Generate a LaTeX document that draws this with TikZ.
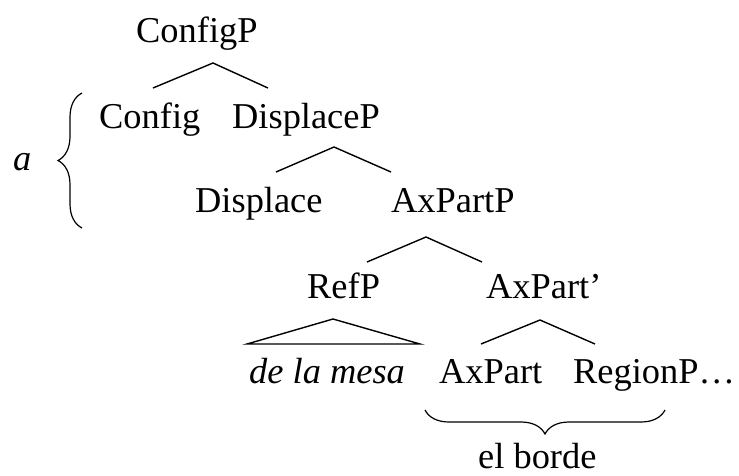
\documentclass[tikz,border=0pt]{standalone}
\usepackage{fontspec}
\setmainfont{Liberation Serif}
\usetikzlibrary{decorations.pathreplacing}
\begin{document}
\begin{tikzpicture}[x=1pt,y=1pt,
  lbl/.style={anchor=base west,inner sep=0pt,font=\fontsize{36.4}{43}\selectfont},
  branch/.style={line width=1.4pt,line join=miter},
  curly/.style={line width=1.2pt,decorate,decoration={brace,amplitude=24pt,aspect=0.5}}]
\useasboundingbox (0,0) rectangle (739,-475);

% labels of the tree
\node[lbl] (configP)   at (136,-42)  {ConfigP};
\node[lbl] (config)    at (99,-128)  {Config};
\node[lbl] (displaceP) at (232,-128) {DisplaceP};
\node[lbl] (displace)  at (195,-212) {Displace};
\node[lbl] (axpartP)   at (391,-212) {AxPartP};
\node[lbl] (refP)      at (307,-298) {RefP};
\node[lbl] (axpartbar) at (486,-298) {AxPart’};
\node[lbl] (mesa)      at (249,-383) {\itshape de la mesa};
\node[lbl] (axpart)    at (439,-383) {AxPart};
\node[lbl] (regionP)   at (573,-383) {RegionP…};
\node[lbl] (borde)     at (478,-468) {el borde};
\node[lbl] (alabel)    at (13,-170)  {\itshape a};

% branch points
\coordinate (b1) at (213,-63);  \coordinate (b1l) at (153,-88);  \coordinate (b1r) at (268,-88);
\coordinate (b2) at (334,-147); \coordinate (b2l) at (276,-172); \coordinate (b2r) at (391,-172);
\coordinate (b3) at (426,-237); \coordinate (b3l) at (367,-262); \coordinate (b3r) at (482,-262);
\coordinate (b4) at (333,-319); \coordinate (b4l) at (247,-344); \coordinate (b4r) at (420,-344);
\coordinate (b5) at (540,-320); \coordinate (b5l) at (481,-344); \coordinate (b5r) at (595,-344);

% branches
\draw[branch] (b1l) -- (b1) -- (b1r);
\draw[branch] (b2l) -- (b2) -- (b2r);
\draw[branch] (b3l) -- (b3) -- (b3r);
\draw[branch] (b4l) -- (b4) -- (b4r) -- cycle;
\draw[branch] (b5l) -- (b5) -- (b5r);

% braces
\coordinate (lb1) at (82,-228); \coordinate (lb2) at (82,-93);
\draw[curly] (lb1) -- (lb2);
\coordinate (ub1) at (665,-410); \coordinate (ub2) at (425,-410);
\draw[curly] (ub1) -- (ub2);
\end{tikzpicture}
\end{document}
